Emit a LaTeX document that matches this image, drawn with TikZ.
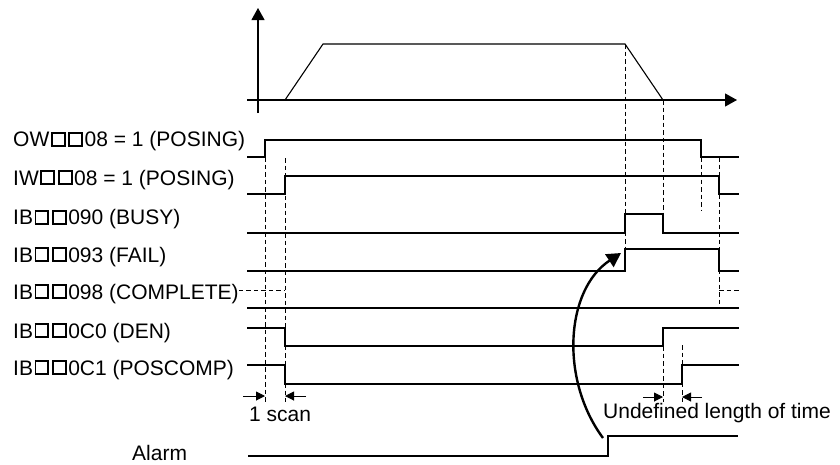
\documentclass[tikz,border=0pt]{standalone}
\usepackage{fontspec}
\setmainfont{Liberation Sans}
\usetikzlibrary{arrows.meta}
\newcommand{\sqbox}{\kern0.07em\raisebox{0.09em}{\setlength{\fboxsep}{0pt}\setlength{\fboxrule}{0.09em}\fbox{\rule{0pt}{0.52em}\rule{0.52em}{0pt}}}\kern0.07em}
\begin{document}
\begin{tikzpicture}[x=1pt,y=-1pt,
  sig/.style={line width=1.1pt, line join=miter},
  axisline/.style={line width=1.1pt, -{Triangle[length=12pt,width=13pt]}},
  dsh/.style={line width=0.9pt, dash pattern=on 4.5pt off 3pt},
  dimarrow/.style={line width=1pt, -{Triangle[length=9pt,width=9pt]}},
  lbl/.style={anchor=base west, inner sep=0pt, font=\fontsize{21pt}{25pt}\selectfont},
  curvearrow/.style={line width=2.4pt, -{Triangle[length=14pt,width=15pt]}}]
\useasboundingbox (0,0) rectangle (840,464);

% speed profile
\coordinate (yb) at (258,113);
\coordinate (yt) at (258,8);
\coordinate (xl) at (247,100);
\coordinate (xr) at (737,100);
\draw[axisline] (yb) -- (yt);
\draw[axisline] (xl) -- (xr);
\coordinate (p0) at (285,100);
\coordinate (p1) at (323,44);
\coordinate (p2) at (625,44);
\coordinate (p3) at (663,100);
\draw[sig] (p0) -- (p1) -- (p2) -- (p3);

% labels
\node[lbl] (ow) at (13,146.5) {OW\sqbox\sqbox08 = 1 (POSING)};
\node[lbl] (iw) at (13,185) {IW\sqbox\sqbox08 = 1 (POSING)};
\node[lbl] (busy) at (13,224.5) {IB\sqbox\sqbox090 (BUSY)};
\node[lbl] (fail) at (13,262) {IB\sqbox\sqbox093 (FAIL)};
\node[lbl] (comp) at (13,299) {IB\sqbox\sqbox098 (COMPLETE)};
\node[lbl] (den) at (13,338) {IB\sqbox\sqbox0C0 (DEN)};
\node[lbl] (pos) at (13,375) {IB\sqbox\sqbox0C1 (POSCOMP)};
\node[lbl] (alarm) at (132,460) {Alarm};
\node[lbl] (scan) at (249,421.5) {1 scan};
\node[lbl] (undef) at (603,418) {Undefined length of time};

% signals
\draw[sig] (247,157) -- (265,157) -- (265,140) -- (701,140) -- (701,157) -- (739,157);
\draw[sig] (247,194) -- (285,194) -- (285,176) -- (719,176) -- (719,194) -- (739,194);
\draw[sig] (247,233) -- (625,233) -- (625,214) -- (663,214) -- (663,233) -- (739,233);
\draw[sig] (247,271) -- (625,271) -- (625,249) -- (719,249) -- (719,271) -- (739,271);
\draw[sig] (247,308) -- (739,308);
\coordinate (cd) at (285,290);
\draw[dsh] (comp.east |- cd) -- (cd);
\draw[dsh] (719,290) -- (739,290);
\draw[sig] (247,328) -- (285,328) -- (285,346) -- (663,346) -- (663,328) -- (739,328);
\draw[sig] (247,365) -- (285,365) -- (285,384) -- (682,384) -- (682,365) -- (739,365);
\draw[sig] (248,456) -- (608,456) -- (608,436) -- (738,436);

% dashed guides
\draw[dsh] (265,157) -- (265,402);
\draw[dsh] (285,158) -- (285,402);
\draw[dsh] (625,44) -- (625,249);
\draw[dsh] (663,100) -- (663,214);
\draw[dsh] (701,157) -- (701,210);
\draw[dsh] (719,157) -- (719,308);
\draw[dsh] (663,346) -- (663,402);
\draw[dsh] (682,345) -- (682,402);

% dimension arrows
\draw[dimarrow] (243,396) -- (265,396);
\draw[dimarrow] (306,396) -- (285,396);
\draw[dimarrow] (643,397) -- (663,397);
\draw[dimarrow] (702,397) -- (682,397);

% alarm to fail
\coordinate (cs) at (603,438);
\coordinate (ce) at (621,253);
\draw[curvearrow] (cs) .. controls (560,380) and (565,290) .. (ce);
\end{tikzpicture}
\end{document}
